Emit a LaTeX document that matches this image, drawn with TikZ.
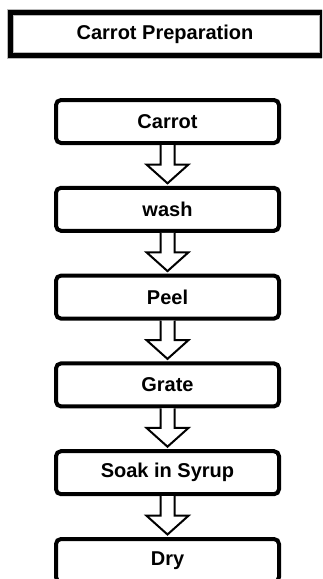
\documentclass[tikz,border=0pt]{standalone}
\usepackage{fontspec}
\setmainfont{Liberation Sans}
\usetikzlibrary{calc}
\begin{document}
\begin{tikzpicture}[x=1pt,y=-1pt,
  label font/.style={font=\bfseries\fontsize{20}{24}\selectfont},
  stepbox/.style={draw=black, line width=4pt, rounded corners=5pt, fill=white,
    minimum width=223pt, minimum height=43pt, inner sep=0pt, label font},
  blockarrow/.style={draw=black, line width=2pt, fill=white, line join=miter}]
  \useasboundingbox (0,0) rectangle (322,579);
  \clip (0,0) rectangle (322,579);

  % heading banner, running off the right edge
  \draw[gray!55, line width=7.5pt] (10.5,12.5) rectangle (323,55.5);
  \draw[black, line width=5.5pt] (10.5,12.5) rectangle (323,55.5);
  \node[label font] (title) at (165,34) {Carrot Preparation};

  % process steps
  \node[stepbox] (carrot) at (167.5,121.5) {Carrot};
  \node[stepbox] (wash)   at (167.5,209.3) {wash};
  \node[stepbox] (peel)   at (167.5,297.1) {Peel};
  \node[stepbox] (grate)  at (167.5,384.9) {Grate};
  \node[stepbox] (soak)   at (167.5,472.7) {Soak in Syrup};
  \node[stepbox] (dry)    at (167.5,560.5) {Dry};

  % hollow block arrows between consecutive steps
  \foreach \a/\b in {carrot/wash, wash/peel, peel/grate, grate/soak, soak/dry}{
    \draw[blockarrow] ($(\a.south)+(-7,0)$) -- ++(0,19.5) -- ++(-14,0)
      -- ($(\b.north)+(0,-2.5)$) -- ($(\a.south)+(21,19.5)$) -- ++(-14,0) -- ++(0,-19.5);
  }
\end{tikzpicture}
\end{document}
